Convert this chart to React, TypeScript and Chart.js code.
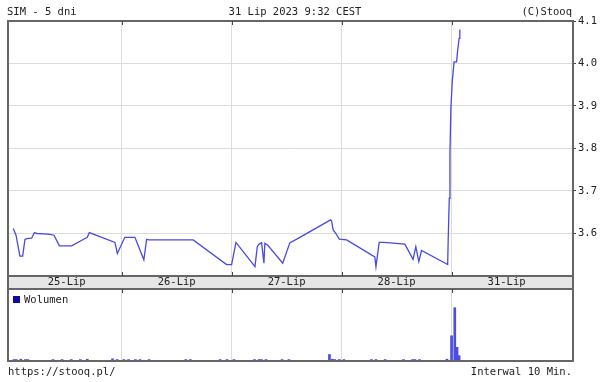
import React, { useEffect, useRef } from 'react';
import { Chart, registerables } from 'chart.js';
Chart.register(...registerables);

const FONT_FAMILY = '"DejaVu Sans Mono", monospace';
const FONT_SIZE = 10.5;

// Texts
const headerLeft = 'SIM - 5 dni';
const headerCenter = '31 Lip 2023 9:32 CEST';
const headerRight = '(C)Stooq';
const footerLeft = 'https://stooq.pl/';
const footerRight = 'Interwal 10 Min.';
const volumeLabel = 'Wolumen';

// X axis: 10-minute slots, 48 per session day
const X_MIN = -1.6;
const X_MAX = 245;
const dayLabels = ['25-Lip', '26-Lip', '27-Lip', '28-Lip', '31-Lip'];
const dayLabelSlots = [24, 72, 120, 168, 216];
const dayBoundarySlots = [48, 96, 144, 192];

// Price axis
const PRICE_MIN = 3.5;
const PRICE_MAX = 4.1;
const priceTicks = [3.6, 3.7, 3.8, 3.9, 4.0, 4.1];

// Price series (slot, value)
const priceSlots = [
  0.7, 1.9, 3.6, 4.8, 5.8, 6.6, 8.7, 9.9, 11.2, 13.8, 16.7, 18.5, 20.8, 26.2, 31.2, 33.0, 33.9, 45.1, 46.1,
  49.4, 53.8, 57.7, 58.9, 60.0, 79.2, 93.8, 96.0,
  97.9, 106.2, 107.2, 108.0, 109.1, 110.1, 110.5, 111.7, 118.3, 121.4, 125.8, 139.2, 139.6, 140.3, 141.5,
  143.0, 146.2, 158.5, 159.0, 160.4, 162.5, 171.6, 175.2, 176.4, 177.7, 178.9, 190.3,
  190.5, 191.0, 191.3, 191.7, 192.3, 192.7, 193.1, 194.2, 194.6, 195.3, 195.6,
];
const priceValues = [
  3.612, 3.596, 3.547, 3.547, 3.586, 3.588, 3.589, 3.602, 3.600, 3.599, 3.598, 3.596, 3.571, 3.571, 3.586, 3.591, 3.602, 3.579, 3.553,
  3.591, 3.591, 3.538, 3.586, 3.585, 3.585, 3.527, 3.527,
  3.579, 3.522, 3.569, 3.575, 3.578, 3.530, 3.577, 3.573, 3.530, 3.578, 3.591, 3.632, 3.630, 3.609, 3.600,
  3.587, 3.585, 3.545, 3.522, 3.579, 3.579, 3.575, 3.539, 3.569, 3.534, 3.560, 3.527,
  3.579, 3.683, 3.789, 3.895, 3.957, 3.981, 4.004, 4.004, 4.028, 4.059, 4.080,
];

// Volume series (slot, relative volume 0..100)
const volumeSlots = [
  1, 2, 4, 6, 7, 18, 22, 26, 30, 33, 44, 46,
  49, 51, 54, 56, 60, 76, 78, 91, 94,
  97, 106, 108, 109, 111, 118, 121, 138.7, 140, 141,
  143, 145, 157, 159, 163, 171, 175, 176, 178, 190,
  192, 193.4, 194.4, 195.3,
];
const volumeValues = [
  2, 2, 2.5, 2, 2, 2, 2, 2, 2, 2.5, 3, 2,
  2, 2, 2, 2, 2, 2, 2, 2, 2,
  2, 2, 2, 2, 2, 2, 2, 9, 2.5, 2,
  2, 2, 2, 2, 2, 2, 2, 2, 2, 2.5,
  35, 74, 19, 7.4,
];

const LINE_COLOR = 'rgb(72,72,232)';
const BAR_COLOR = 'rgb(76,76,226)';
const LEGEND_COLOR = '#0a0aa8';
const GRID_COLOR = '#dcdcdc';
const FRAME_COLOR = '#666';
const TEXT_COLOR = '#222';
const STRIP_COLOR = '#e6e6e6';

const font = { family: FONT_FAMILY, size: FONT_SIZE };

function drawText(ctx: CanvasRenderingContext2D, text: string, x: number, y: number, align: CanvasTextAlign) {
  ctx.save();
  ctx.font = `${FONT_SIZE}px ${FONT_FAMILY}`;
  ctx.fillStyle = TEXT_COLOR;
  ctx.textAlign = align;
  ctx.textBaseline = 'middle';
  ctx.fillText(text, x, y);
  ctx.restore();
}

const pricePlugin = {
  id: 'priceDecor',
  beforeDraw(chart: any) {
    const ctx = chart.ctx;
    ctx.save();
    ctx.fillStyle = '#fff';
    ctx.fillRect(0, 0, chart.width, chart.height);
    const s = chart.scales.xDays;
    ctx.fillStyle = STRIP_COLOR;
    ctx.fillRect(chart.chartArea.left, s.top, chart.chartArea.right - chart.chartArea.left, s.bottom - s.top);
    ctx.restore();
  },
  afterDraw(chart: any) {
    const ctx = chart.ctx;
    const a = chart.chartArea;
    const s = chart.scales.xDays;
    const xs = chart.scales.x;
    ctx.save();
    ctx.strokeStyle = FRAME_COLOR;
    ctx.lineWidth = 2;
    ctx.strokeRect(a.left, a.top, a.right - a.left, a.bottom - a.top);
    ctx.strokeRect(a.left, s.top, a.right - a.left, s.bottom - s.top);
    ctx.strokeStyle = '#444';
    ctx.lineWidth = 1;
    dayBoundarySlots.forEach((v) => {
      const px = Math.round(xs.getPixelForValue(v)) + 0.5;
      ctx.beginPath();
      ctx.moveTo(px, a.top);
      ctx.lineTo(px, a.top + 4);
      ctx.moveTo(px, a.bottom - 4);
      ctx.lineTo(px, a.bottom);
      ctx.stroke();
    });
    ctx.restore();
    drawText(ctx, headerLeft, 7, 12, 'left');
    drawText(ctx, headerCenter, 295, 12, 'center');
    drawText(ctx, headerRight, 572, 12, 'right');
  },
};

const volumePlugin = {
  id: 'volumeDecor',
  afterDraw(chart: any) {
    const ctx = chart.ctx;
    const a = chart.chartArea;
    const xs = chart.scales.x;
    ctx.save();
    ctx.strokeStyle = FRAME_COLOR;
    ctx.lineWidth = 2;
    ctx.strokeRect(a.left, a.top, a.right - a.left, a.bottom - a.top);
    ctx.strokeStyle = '#444';
    ctx.lineWidth = 1;
    dayBoundarySlots.forEach((v) => {
      const px = Math.round(xs.getPixelForValue(v)) + 0.5;
      ctx.beginPath();
      ctx.moveTo(px, a.top);
      ctx.lineTo(px, a.top + 4);
      ctx.stroke();
    });
    // legend: swatch + label inside the panel
    ctx.fillStyle = LEGEND_COLOR;
    ctx.fillRect(a.left + 5, a.top + 7, 7, 7);
    ctx.restore();
    drawText(ctx, volumeLabel, a.left + 16, a.top + 11, 'left');
    drawText(ctx, footerLeft, 8, 372, 'left');
    drawText(ctx, footerRight, 572, 372, 'right');
  },
};

export default function App() {
  const ref1 = useRef<HTMLCanvasElement>(null);
  const ref2 = useRef<HTMLCanvasElement>(null);

  useEffect(() => {
    const priceChart = new Chart(ref1.current as HTMLCanvasElement, {
      type: 'line',
      data: {
        datasets: [
          {
            label: 'SIM',
            data: priceSlots.map((x, i) => ({ x, y: priceValues[i] })),
            borderColor: LINE_COLOR,
            borderWidth: 1.3,
            pointRadius: 0,
            tension: 0,
            fill: false,
            xAxisID: 'x',
            yAxisID: 'y',
          },
        ],
      },
      options: {
        responsive: false,
        animation: false,
        devicePixelRatio: 1,
        events: [],
        layout: { padding: { left: 8, top: 21, right: 0, bottom: 93 } },
        plugins: { legend: { display: false }, tooltip: { enabled: false } },
        scales: {
          x: {
            type: 'linear',
            position: 'bottom',
            min: X_MIN,
            max: X_MAX,
            afterBuildTicks: (s: any) => {
              s.ticks = dayBoundarySlots.map((v) => ({ value: v }));
            },
            ticks: { display: false },
            grid: { color: GRID_COLOR, drawTicks: false },
            border: { display: false },
            afterFit: (s: any) => {
              s.height = 0;
            },
          },
          xDays: {
            type: 'linear',
            position: 'bottom',
            min: X_MIN,
            max: X_MAX,
            afterBuildTicks: (s: any) => {
              s.ticks = dayLabelSlots.map((v) => ({ value: v }));
            },
            ticks: {
              callback: (_v: any, i: number) => dayLabels[i],
              font,
              color: TEXT_COLOR,
              padding: 0,
              autoSkip: false,
              maxRotation: 0,
            },
            grid: { display: false, drawTicks: false },
            border: { display: false },
            afterFit: (s: any) => {
              s.height = 13;
            },
          },
          y: {
            type: 'linear',
            position: 'right',
            min: PRICE_MIN,
            max: PRICE_MAX,
            afterBuildTicks: (s: any) => {
              s.ticks = [PRICE_MIN, ...priceTicks].map((v) => ({ value: v }));
            },
            ticks: {
              callback: (v: any) => (priceTicks.includes(v) ? Number(v).toFixed(1) : ''),
              font,
              color: TEXT_COLOR,
              padding: 2,
              autoSkip: false,
            },
            grid: {
              color: GRID_COLOR,
              tickLength: 3,
              tickColor: (c: any) => (c.tick && c.tick.value > PRICE_MIN + 0.05 ? '#444' : 'rgba(0,0,0,0)'),
            },
            border: { display: false },
            afterFit: (s: any) => {
              s.width = 32;
            },
          },
        },
      } as any,
      plugins: [pricePlugin],
    });

    const volumeChart = new Chart(ref2.current as HTMLCanvasElement, {
      type: 'bar',
      data: {
        datasets: [
          {
            label: volumeLabel,
            data: volumeSlots.map((x, i) => ({ x, y: volumeValues[i] })),
            backgroundColor: BAR_COLOR,
            borderWidth: 0,
            barThickness: 2,
          },
        ],
      },
      options: {
        responsive: false,
        animation: false,
        devicePixelRatio: 1,
        events: [],
        layout: { padding: { left: 8, top: 289, right: 32, bottom: 21 } },
        plugins: {
          tooltip: { enabled: false },
          legend: { display: false },
        },
        scales: {
          x: {
            type: 'linear',
            position: 'bottom',
            min: X_MIN,
            max: X_MAX,
            offset: false,
            afterBuildTicks: (s: any) => {
              s.ticks = dayBoundarySlots.map((v) => ({ value: v }));
            },
            ticks: { display: false },
            grid: { color: GRID_COLOR, drawTicks: false, offset: false },
            border: { display: false },
            afterFit: (s: any) => {
              s.height = 0;
            },
          },
          y: { display: false, min: 0, max: 100 },
        },
      } as any,
      plugins: [volumePlugin],
    });

    return () => {
      priceChart.destroy();
      volumeChart.destroy();
    };
  }, []);

  return (
    <div style={{ position: 'absolute', left: 0, top: 0, width: 605, height: 382, background: '#fff' }}>
      <canvas ref={ref1} width={605} height={382} style={{ position: 'absolute', left: 0, top: 0 }} />
      <canvas ref={ref2} width={605} height={382} style={{ position: 'absolute', left: 0, top: 0 }} />
    </div>
  );
}
